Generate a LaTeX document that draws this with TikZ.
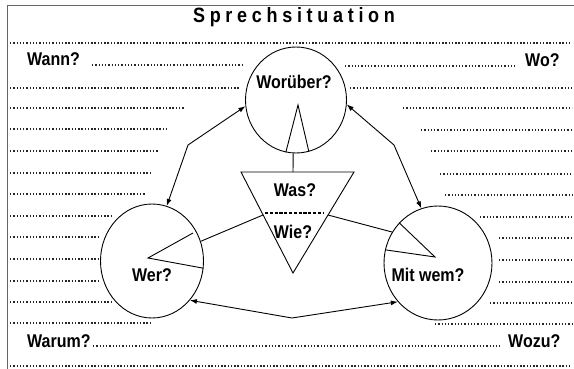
\documentclass[tikz,border=0pt]{standalone}
\usepackage{fontspec}
\setmainfont{Liberation Sans}
\usetikzlibrary{shapes.geometric,arrows.meta}
\newcommand{\vst}[1]{\scalebox{1}[1.15]{#1}}
\newcommand{\lsp}{\kern4.7pt}
\begin{document}
\begin{tikzpicture}[x=1pt,y=-1pt,
  lab/.style={font=\bfseries\fontsize{16}{16}\selectfont, inner sep=0pt},
  dotrow/.style={line width=1.35pt, dash pattern=on 1.35pt off 1.9pt, black!85},
  circ/.style={ellipse, draw, line width=0.9pt, inner sep=0pt},
  conn/.style={line width=0.9pt},
  arr/.style={line width=0.9pt, {Latex[length=7pt,width=5pt]}-{Latex[length=7pt,width=5pt]}}]
\useasboundingbox (0,0) rectangle (574,369);
% frame
\draw[black!60, line width=0.9pt] (7,369) -- (7,5) -- (574,5);
% title
\node[font=\bfseries\fontsize{18}{18}\selectfont, inner sep=0pt] (title) at (294,17)
  {\vst{S\lsp p\lsp r\lsp e\lsp c\lsp h\lsp s\lsp i\lsp t\lsp u\lsp a\lsp t\lsp i\lsp o\lsp n}};
% dotted rows
\draw[dotrow] (10,43) -- (572,43);
\draw[dotrow] (10,366) -- (572,366);
\draw[dotrow] (92,65) -- (243,65);
\draw[dotrow] (345,66) -- (517,66);
\draw[dotrow] (93,346) -- (500,346);
\foreach \yy/\xx in {88/240,108/185,129/167,151/158,173/150,194/145,216/113,237/99,259/99,281/99,302/113,323/150}
  \draw[dotrow] (10,\yy) -- (\xx,\yy);
\foreach \yy/\xx in {88/350,108/403,130/421,151/431,174/440,195/445,217/480,238/499,260/499,282/499,303/490,324/435}
  \draw[dotrow] (\xx,\yy) -- (572,\yy);
% side labels
\node[lab, anchor=base west] (wann) at (27,66) {\vst{Wann?}};
\node[lab, anchor=base west] (wo) at (525,67) {\vst{Wo?}};
\node[lab, anchor=base west] (warum) at (27,347) {\vst{Warum?}};
\node[lab, anchor=base west] (wozu) at (508,347) {\vst{Wozu?}};
% circles
\node[circ, minimum width=101pt, minimum height=106pt] (wor) at (296,100) {};
\node[circ, minimum width=103pt, minimum height=114pt] (wer) at (152,261) {};
\node[circ, minimum width=108pt, minimum height=114pt] (mit) at (438,263) {};
\node[lab] (worl) at (294,82) {\vst{Worüber?}};
\node[lab] (werl) at (152,275) {\vst{Wer?}};
\node[lab] (mitl) at (428,275) {\vst{Mit wem?}};
% triangle
\coordinate (tA) at (241,172);
\coordinate (tB) at (354,172);
\coordinate (tC) at (293,273);
\coordinate (tT) at (293,172);
\coordinate (tL) at (263,215);
\coordinate (tR) at (328,215);
\draw[conn] (tA) -- (tB) -- (tC) -- cycle;
\draw[line width=1.1pt, dash pattern=on 3.2pt off 1.6pt] (265,213) -- (323,213);
\node[lab] (was) at (295,190) {\vst{Was?}};
\node[lab] (wie) at (293,232) {\vst{Wie?}};
% wedges
\coordinate (aw) at (298,105);
\coordinate (ae) at (148,258);
\coordinate (am) at (435,257);
\draw[conn] (wor.-101) -- (aw) -- (wor.-76);
\draw[conn] (wor.-93) -- (tT);
\draw[conn] (193,233) -- (ae) -- (wer.-8);
\draw[conn] (tL) -- (wer.22);
\draw[conn] (mit.134) -- (am) -- (mit.166);
\draw[conn] (tR) -- (mit.146);
% arrows
\coordinate (bl) at (188,145);
\coordinate (br) at (394,145);
\coordinate (bb) at (292,318);
\draw[arr] (wer.75) -- (bl) -- (wor.187);
\draw[arr] (wor.-5) -- (br) -- (mit.107);
\draw[arr] (wer.-46) -- (bb) -- (mit.224);
\end{tikzpicture}
\end{document}
